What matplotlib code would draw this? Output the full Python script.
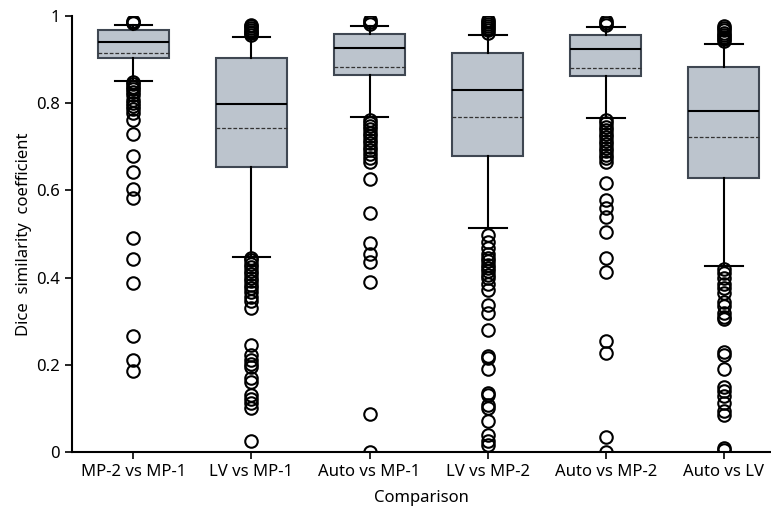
import matplotlib
matplotlib.use("Agg")
import matplotlib.pyplot as plt
from matplotlib.ticker import FuncFormatter

plt.rcParams['font.family'] = ['Noto Sans', 'DejaVu Sans']

categories = ["MP-2 vs MP-1", "LV vs MP-1", "Auto vs MP-1",
              "LV vs MP-2", "Auto vs MP-2", "Auto vs LV"]

medians = [0.940, 0.797, 0.926, 0.830, 0.924, 0.781]
means = [0.916, 0.744, 0.884, 0.768, 0.880, 0.722]
q1 = [0.904, 0.654, 0.865, 0.680, 0.863, 0.628]
q3 = [0.968, 0.903, 0.959, 0.916, 0.956, 0.884]
whisker_lo = [0.851, 0.448, 0.769, 0.514, 0.767, 0.427]
whisker_hi = [0.980, 0.951, 0.978, 0.956, 0.974, 0.936]

fliers = [
    [0.983, 0.986, 0.989, 0.848, 0.843, 0.838, 0.832, 0.826, 0.818, 0.808,
     0.800, 0.793, 0.786, 0.778, 0.762, 0.730, 0.680, 0.642, 0.603, 0.583,
     0.490, 0.442, 0.387, 0.266, 0.212, 0.186],
    [0.956, 0.960, 0.964, 0.968, 0.972, 0.976, 0.980,
     0.445, 0.440, 0.432, 0.424, 0.416, 0.408, 0.400, 0.392, 0.384,
     0.376, 0.366, 0.356, 0.346, 0.330,
     0.245, 0.222, 0.212, 0.202, 0.195, 0.170, 0.160, 0.130, 0.122,
     0.112, 0.100, 0.025],
    [0.982, 0.986, 0.990,
     0.762, 0.755, 0.748, 0.740, 0.732, 0.724, 0.716, 0.708, 0.700,
     0.692, 0.683, 0.675, 0.666, 0.627, 0.547, 0.480, 0.455, 0.435,
     0.390, 0.088, 0.0],
    [0.962, 0.967, 0.972, 0.977, 0.982, 0.987, 0.990,
     0.497, 0.482, 0.468, 0.455, 0.446, 0.438, 0.430, 0.422, 0.414,
     0.406, 0.398, 0.385, 0.372, 0.338, 0.318, 0.280, 0.220, 0.215,
     0.190, 0.136, 0.130, 0.108, 0.100, 0.072, 0.040, 0.025, 0.015],
    [0.980, 0.985, 0.989,
     0.762, 0.754, 0.746, 0.738, 0.730, 0.722, 0.714, 0.706, 0.698,
     0.690, 0.682, 0.674, 0.666, 0.618, 0.578, 0.560, 0.540, 0.505,
     0.445, 0.413, 0.255, 0.228, 0.034, 0.0],
    [0.942, 0.947, 0.952, 0.957, 0.962, 0.967, 0.972, 0.976,
     0.420, 0.410, 0.398, 0.385, 0.375, 0.365, 0.345, 0.335, 0.318,
     0.310, 0.305, 0.230, 0.222, 0.190, 0.150, 0.140, 0.128, 0.112,
     0.095, 0.085, 0.010, 0.005],
]

stats = []
for i, name in enumerate(categories):
    stats.append(dict(label=name, med=medians[i], mean=means[i],
                      q1=q1[i], q3=q3[i], whislo=whisker_lo[i],
                      whishi=whisker_hi[i], fliers=fliers[i]))

fig = plt.figure(figsize=(7.71, 5.09), dpi=100)
ax = fig.add_axes([0.0934, 0.112, 0.9066, 0.8566])

ax.bxp(stats, positions=range(len(categories)), widths=0.6,
       capwidths=0.32, patch_artist=True, showmeans=True, meanline=True,
       boxprops=dict(facecolor="#bcc4cd", edgecolor="#3f4752", linewidth=1.5),
       medianprops=dict(color="black", linewidth=1.5),
       meanprops=dict(color="#333333", linestyle=(0, (3, 1.5)), linewidth=0.9),
       whiskerprops=dict(color="black", linewidth=1.5),
       capprops=dict(color="black", linewidth=1.5),
       flierprops=dict(marker="o", markerfacecolor="none",
                       markeredgecolor="black", markersize=9,
                       markeredgewidth=1.5))

ax.set_xlim(-0.52, 5.4)
ax.set_ylim(0, 1)
ax.set_yticks([0, 0.2, 0.4, 0.6, 0.8, 1.0])
ax.yaxis.set_major_formatter(FuncFormatter(lambda v, p: f"{v:g}"))
ax.set_xticks(range(len(categories)))
ax.set_xticklabels(categories)

for s in ("top", "right"):
    ax.spines[s].set_visible(False)
for s in ("left", "bottom"):
    ax.spines[s].set_linewidth(1.5)
ax.tick_params(axis="both", labelsize=12, width=1.2, length=5)

ax.set_xlabel("Comparison", fontsize=12, labelpad=7)
ax.set_ylabel("Dice  similarity  coefficient", fontsize=12, labelpad=3)

fig.savefig("out.png", dpi=100)
